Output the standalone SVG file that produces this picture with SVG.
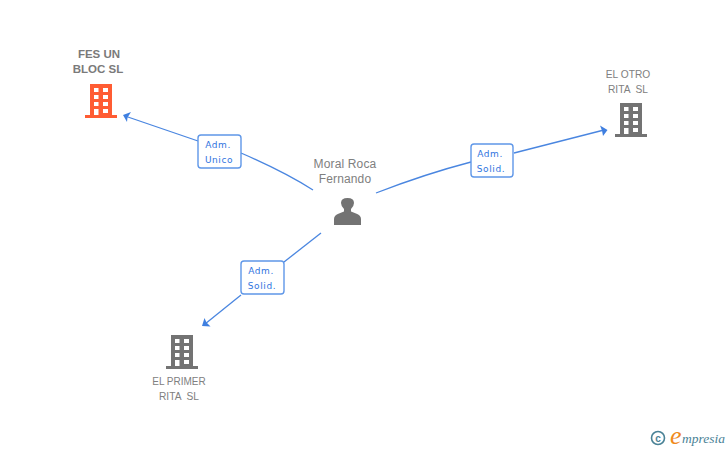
<svg xmlns="http://www.w3.org/2000/svg" width="728" height="450" viewBox="0 0 728 450">
<style>
.t{font-family:"Liberation Sans",Arial,sans-serif;font-size:10.200px;fill:#808080;text-anchor:middle;white-space:pre}
.b{font-weight:bold;font-size:11.500px;fill:#7a7a7a}
.p{font-size:12px;letter-spacing:.15px}
.e{fill:none;stroke:#4a86e0;stroke-width:1.300}
.box{fill:#fff;stroke:#5f97e8;stroke-width:1.400}
.l{font-family:"DejaVu Sans",sans-serif;font-size:9px;letter-spacing:.6px;fill:#2f74e0;text-anchor:middle}
.head{fill:#3f7fe0}
.w{fill:#fff}
</style>
<defs>
<g id="bld">
<rect x="-11" y="-17" width="22" height="31"/>
<rect x="-16" y="14" width="32" height="3"/>
<g class="w">
<rect x="-7" y="-13" width="4.500" height="4"/><rect x="2" y="-13" width="5" height="4"/>
<rect x="-7" y="-6" width="4.500" height="4"/><rect x="2" y="-6" width="5" height="4"/>
<rect x="-7" y="1" width="4.500" height="4"/><rect x="2" y="1" width="5" height="4"/>
<rect x="-7" y="8" width="4.500" height="6"/><rect x="2" y="8" width="5" height="4"/>
</g>
</g>
</defs>
<rect width="728" height="450" fill="#fff"/>
<g id="connectors">
<path class="e" d="M313 190Q285 172 241 153"/>
<path class="e" d="M198 141L125 116"/>
<path class="head" d="M123 115L131 112L127.500 117.500L127 122Z"/>
<path class="e" d="M376 193Q425 174 471 162"/>
<path class="e" d="M514 153L604 130"/>
<path class="head" d="M607.500 130L600 125.500L602 130.500L603 136Z"/>
<path class="e" d="M321 233L284 262"/>
<path class="e" d="M241 295L205 324"/>
<path class="head" d="M202 326L204.500 318L206.500 322.500L210.500 326.500Z"/>
</g>
<g id="edge-label-1"><rect class="box" x="198" y="135" width="43" height="33" rx="3"/><text class="l" x="218" y="148">Adm.</text><text class="l" x="219" y="163">Unico</text></g>
<g id="edge-label-2"><rect class="box" x="471" y="144" width="42" height="33" rx="3"/><text class="l" x="490" y="157">Adm.</text><text class="l" x="491" y="172">Solid.</text></g>
<g id="edge-label-3"><rect class="box" x="241" y="261" width="43" height="33" rx="3"/><text class="l" x="261" y="274">Adm.</text><text class="l" x="262" y="289">Solid.</text></g>
<g id="node-fes"><text class="t b" x="99" y="58">FES UN</text><text class="t b" x="98" y="73">BLOC SL</text><use href="#bld" x="101" y="101" fill="#ff5c33"/></g>
<g id="node-otro"><text class="t" x="628" y="78">EL OTRO</text><text class="t" x="628" y="93">RITA  SL</text><use href="#bld" x="631" y="120" fill="#737373"/></g>
<g id="node-primer"><text class="t" x="179" y="385" style="font-size:10px">EL PRIMER</text><text class="t" x="179" y="400">RITA  SL</text><use href="#bld" x="182" y="352" fill="#737373"/></g>
<g id="node-person"><text class="t p" x="345" y="168">Moral Roca</text><text class="t p" x="345" y="183">Fernando</text>
<path fill="#737373" d="M334 225V219Q334 215 339 213.500L344 211.500V209Q341 206 341 203Q341 198 347.500 198Q354 198 354 203Q354 206 351 209V211.500L356 213.500Q361 215 361 219V225Z"/></g>
<g id="logo"><circle cx="658" cy="438" r="6.500" fill="none" stroke="#4a8296" stroke-width="1.600"/><text x="658" y="441.500" text-anchor="middle" style="font-family:'Liberation Sans',sans-serif;font-size:10px;font-weight:bold;fill:#4a8296">c</text>
<text x="670" y="444" style="font-family:'Liberation Serif',serif;font-style:italic;font-size:26px;fill:#f08a1d">e</text>
<text x="682" y="443" style="font-family:'Liberation Serif',serif;font-style:italic;font-size:13.500px;fill:#4a8296">mpresia</text></g>
</svg>
